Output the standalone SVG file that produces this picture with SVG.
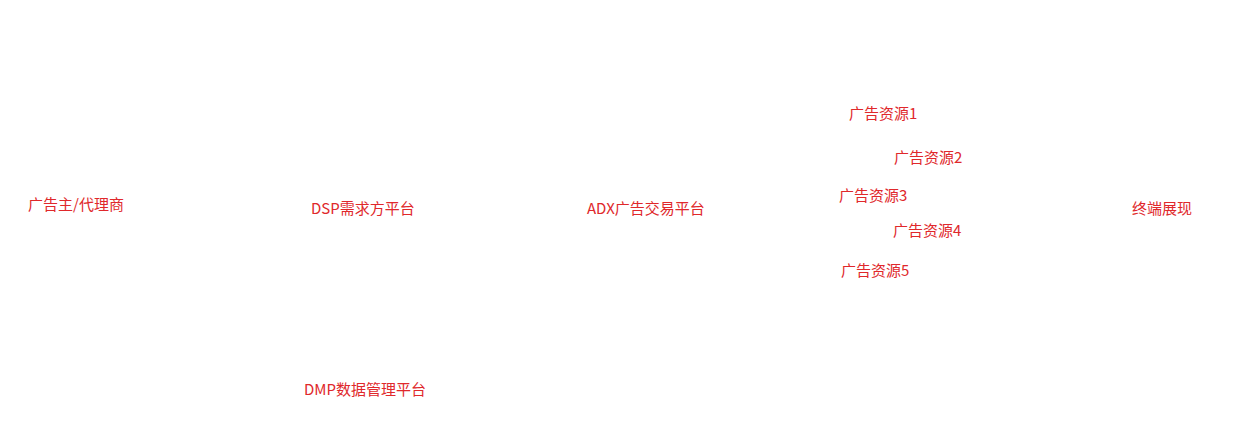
<svg xmlns="http://www.w3.org/2000/svg" width="1248" height="430" viewBox="0 0 1248 430">
<style>
.t{font-family:"Microsoft YaHei","Noto Sans CJK SC","Noto Sans",sans-serif;font-size:15px;fill:#e0282b;dominant-baseline:central}
</style>
<rect width="1248" height="430" fill="#ffffff"/>
<g id="connectors"></g>
<g id="advertiser"><text class="t" x="28" y="203">广告主/代理商</text></g>
<g id="dsp"><text class="t" x="311" y="207">DSP需求方平台</text></g>
<g id="adx"><text class="t" x="587" y="207">ADX广告交易平台</text></g>
<g id="res1"><text class="t" x="849" y="112">广告资源1</text></g>
<g id="res2"><text class="t" x="894" y="156">广告资源2</text></g>
<g id="res3"><text class="t" x="839" y="194">广告资源3</text></g>
<g id="res4"><text class="t" x="893" y="229">广告资源4</text></g>
<g id="res5"><text class="t" x="841" y="269">广告资源5</text></g>
<g id="terminal"><text class="t" x="1132" y="207">终端展现</text></g>
<g id="dmp"><text class="t" x="304" y="388">DMP数据管理平台</text></g>
</svg>
